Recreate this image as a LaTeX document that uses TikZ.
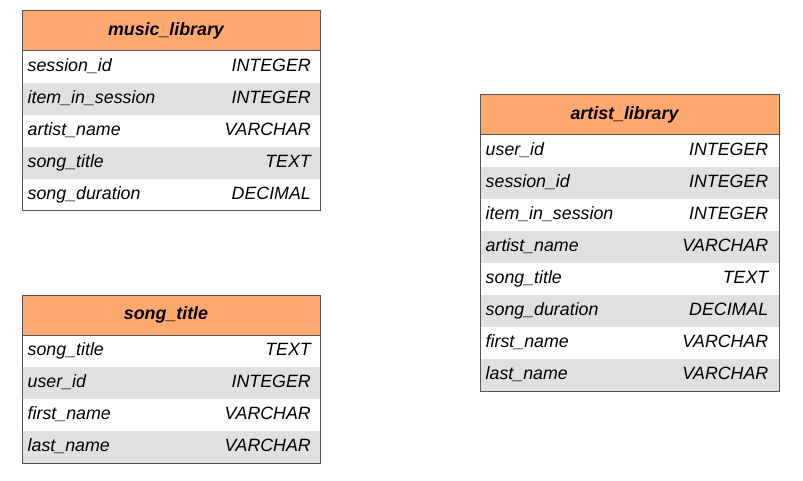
\documentclass[tikz,border=0pt]{standalone}
\usepackage{fontspec}
\setmainfont{Liberation Sans}
\definecolor{headorange}{HTML}{FFA870}
\definecolor{rowgray}{HTML}{E0E0E0}
\definecolor{edgegray}{HTML}{555555}
\tikzset{
  colname/.style={anchor=base west, inner sep=0pt, font=\fontsize{17.8}{21}\selectfont\itshape},
  coltype/.style={anchor=base east, inner sep=0pt, font=\fontsize{17.8}{21}\selectfont\itshape},
  tabtitle/.style={anchor=base, inner sep=0pt, font=\fontsize{17.8}{21}\selectfont\bfseries\itshape},
  tabedge/.style={draw=edgegray, line width=1pt}
}
\begin{document}
\begin{tikzpicture}[x=1pt,y=-1pt]
\useasboundingbox (0,0) rectangle (803,481);
% music_library
\filldraw[fill=headorange, tabedge] (22,11) rectangle (320,51);
\fill[rowgray] (22,83) rectangle (320,115);
\fill[rowgray] (22,147) rectangle (320,179);
\draw[tabedge] (22,11) rectangle (320,211);
\node[tabtitle] (mlhead) at (166,35.7) {music\_library};
\node[colname] (mlname1) at (27.5,71.7) {session\_id};
\node[coltype] (mltype1) at (311,71.7) {INTEGER};
\node[colname] (mlname2) at (27.5,103.7) {item\_in\_session};
\node[coltype] (mltype2) at (311,103.7) {INTEGER};
\node[colname] (mlname3) at (27.5,135.7) {artist\_name};
\node[coltype] (mltype3) at (311,135.7) {VARCHAR};
\node[colname] (mlname4) at (27.5,167.7) {song\_title};
\node[coltype] (mltype4) at (311,167.7) {TEXT};
\node[colname] (mlname5) at (27.5,199.7) {song\_duration};
\node[coltype] (mltype5) at (311,199.7) {DECIMAL};
% song_title
\filldraw[fill=headorange, tabedge] (22,295) rectangle (320,335);
\fill[rowgray] (22,367) rectangle (320,399);
\fill[rowgray] (22,431) rectangle (320,463);
\draw[tabedge] (22,295) rectangle (320,463);
\node[tabtitle] (sthead) at (166,319.7) {song\_title};
\node[colname] (stname1) at (27.5,355.7) {song\_title};
\node[coltype] (sttype1) at (311,355.7) {TEXT};
\node[colname] (stname2) at (27.5,387.7) {user\_id};
\node[coltype] (sttype2) at (311,387.7) {INTEGER};
\node[colname] (stname3) at (27.5,419.7) {first\_name};
\node[coltype] (sttype3) at (311,419.7) {VARCHAR};
\node[colname] (stname4) at (27.5,451.7) {last\_name};
\node[coltype] (sttype4) at (311,451.7) {VARCHAR};
% artist_library
\filldraw[fill=headorange, tabedge] (480.5,95) rectangle (779.5,135);
\fill[rowgray] (480.5,167) rectangle (779.5,199);
\fill[rowgray] (480.5,231) rectangle (779.5,263);
\fill[rowgray] (480.5,295) rectangle (779.5,327);
\fill[rowgray] (480.5,359) rectangle (779.5,391);
\draw[tabedge] (480.5,95) rectangle (779.5,391);
\node[tabtitle] (alhead) at (624.5,120) {artist\_library};
\node[colname] (alname1) at (485.5,155.7) {user\_id};
\node[coltype] (altype1) at (768.5,155.7) {INTEGER};
\node[colname] (alname2) at (485.5,187.7) {session\_id};
\node[coltype] (altype2) at (768.5,187.7) {INTEGER};
\node[colname] (alname3) at (485.5,219.7) {item\_in\_session};
\node[coltype] (altype3) at (768.5,219.7) {INTEGER};
\node[colname] (alname4) at (485.5,251.7) {artist\_name};
\node[coltype] (altype4) at (768.5,251.7) {VARCHAR};
\node[colname] (alname5) at (485.5,283.7) {song\_title};
\node[coltype] (altype5) at (768.5,283.7) {TEXT};
\node[colname] (alname6) at (485.5,315.7) {song\_duration};
\node[coltype] (altype6) at (768.5,315.7) {DECIMAL};
\node[colname] (alname7) at (485.5,347.7) {first\_name};
\node[coltype] (altype7) at (768.5,347.7) {VARCHAR};
\node[colname] (alname8) at (485.5,379.7) {last\_name};
\node[coltype] (altype8) at (768.5,379.7) {VARCHAR};
\end{tikzpicture}
\end{document}
